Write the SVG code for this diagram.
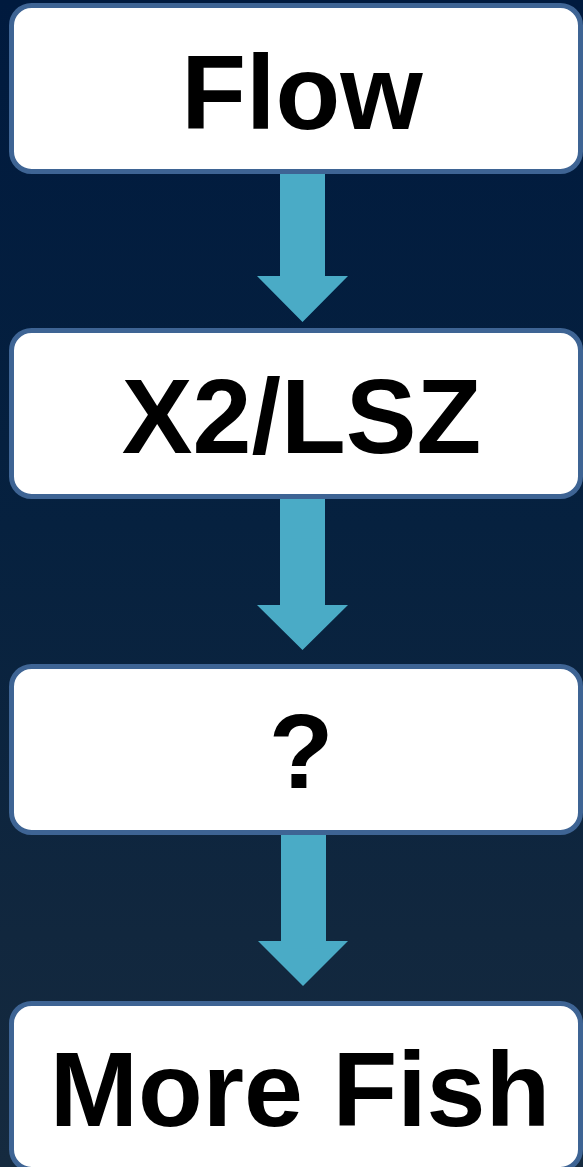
<svg xmlns="http://www.w3.org/2000/svg" width="583" height="1167" viewBox="0 0 583 1167">
<defs>
<linearGradient id="bg" x1="0" y1="0" x2="0" y2="1">
<stop offset="0" stop-color="#001a3e"/>
<stop offset="0.45" stop-color="#06213f"/>
<stop offset="0.8" stop-color="#11273e"/>
<stop offset="1" stop-color="#152a3f"/>
</linearGradient>
</defs>
<style>
.box{fill:#ffffff;stroke:#3e6494;stroke-width:5}
.lbl{font-family:"Liberation Sans",Arial,sans-serif;font-weight:bold;font-size:106px;fill:#000000;text-anchor:middle}
.arr{fill:#4aabc6}
</style>
<rect x="0" y="0" width="583" height="1167" fill="url(#bg)"/>
<g id="connectors">
<polygon class="arr" points="280,174 325,174 325,276 348,276 302.5,322 257,276 280,276"/>
<polygon class="arr" points="280,498 325,498 325,605 348,605 302.5,650 257,605 280,605"/>
<polygon class="arr" points="281,834 326,834 326,941 348,941 303,986 258,941 281,941"/>
</g>
<g id="node-flow">
<rect class="box" x="11.5" y="5.5" width="569" height="166" rx="20"/>
<text class="lbl" x="302" y="129">Flow</text>
</g>
<g id="node-x2lsz">
<rect class="box" x="11.5" y="330.5" width="569" height="166" rx="20"/>
<text class="lbl" x="301.5" y="453">X2/LSZ</text>
</g>
<g id="node-question">
<rect class="box" x="11.5" y="666.5" width="569" height="166" rx="20"/>
<text class="lbl" x="301" y="788">?</text>
</g>
<g id="node-morefish">
<rect class="box" x="11.5" y="1003.5" width="569" height="166" rx="20"/>
<text class="lbl" x="300" y="1126">More Fish</text>
</g>
</svg>
